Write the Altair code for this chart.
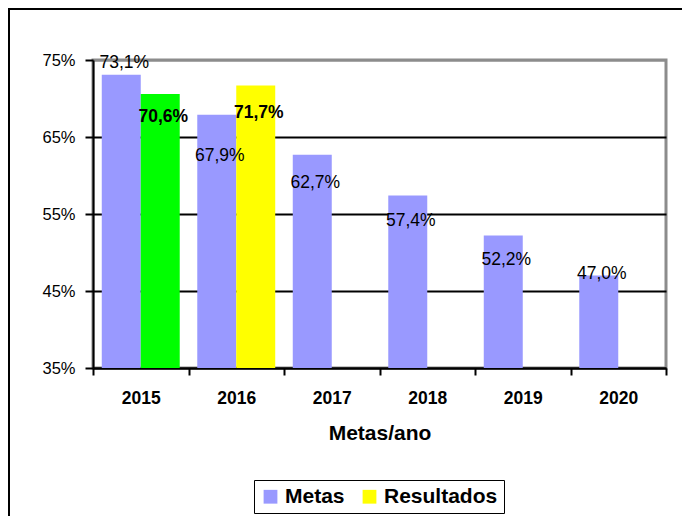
import altair as alt
import pandas as pd

# ---- data ----
years = ["2015", "2016", "2017", "2018", "2019", "2020"]
metas = [73.1, 67.9, 62.7, 57.4, 52.2, 47.0]
resultados = [70.6, 71.7, None, None, None, None]
metas_labels = ["73,1%", "67,9%", "62,7%", "57,4%", "52,2%", "47,0%"]
resultados_labels = ["70,6%", "71,7%", None, None, None, None]
series_names = ["Metas", "Resultados"]
title_text = "Linha de base (2014): 75,3%"

# ---- styling (label nudges in px, not data) ----
metas_label_dy = [-12, 41, 28, 25, 24, -2]
resultados_label_dy = [23, 28, 0, 0, 0, 0]

rows = []
for i, y in enumerate(years):
    rows.append({"year": y, "series": "Metas", "value": metas[i],
                 "label": metas_labels[i], "dy": metas_label_dy[i], "bold": False})
    if resultados[i] is not None:
        rows.append({"year": y, "series": "Resultados", "value": resultados[i],
                     "label": resultados_labels[i], "dy": resultados_label_dy[i], "bold": True})
df = pd.DataFrame(rows)

REG = "Liberation Sans, Arial, sans-serif"

W, H = 573, 308
Y_MIN, Y_MAX = 35, 75

x_enc = alt.X("year:N", sort=years,
              scale=alt.Scale(paddingInner=0, paddingOuter=0),
              axis=alt.Axis(title="Metas/ano", labelAngle=0, tickBand="extent",
                            labelFont=REG, labelFontSize=17.5, labelFontWeight="bold",
                            labelColor="black", labelPadding=14,
                            tickColor="black", tickWidth=2, tickSize=7,
                            domainColor="black", domainWidth=2,
                            titleFont=REG, titleFontSize=21, titleFontWeight="bold",
                            titleColor="black", titlePadding=16, grid=False))
xoff_enc = alt.XOffset("series:N", sort=series_names,
                       scale=alt.Scale(domain=series_names, paddingInner=0, paddingOuter=0.225))
y_enc = alt.Y("value:Q",
              scale=alt.Scale(domain=[Y_MIN, Y_MAX], nice=False, zero=False),
              axis=alt.Axis(title=None, values=[35, 45, 55, 65, 75],
                            labelExpr="datum.value + '%'",
                            labelFont=REG, labelFontSize=16.5, labelColor="black",
                            labelPadding=10, tickColor="black", tickWidth=2, tickSize=8,
                            domainColor="black", domainWidth=2,
                            grid=True, gridWidth=2,
                            gridColor=alt.ExprRef("datum.value === 75 ? '#8c8c8c' : '#000000'")))

bars = alt.Chart(df).mark_bar(strokeWidth=0, clip=True).encode(
    x=x_enc,
    xOffset=xoff_enc,
    y=y_enc,
    color=alt.condition(
        "datum.year === '2015' && datum.series === 'Resultados'",
        alt.value("#00FF00"),
        alt.Color("series:N", sort=series_names,
                  scale=alt.Scale(domain=series_names, range=["#9999FF", "#FFFF00"]),
                  legend=alt.Legend(title=None, orient="none", legendX=161, legendY=420,
                                    direction="horizontal", symbolType="square",
                                    symbolSize=190, symbolStrokeWidth=0,
                                    labelFont=REG, labelFontSize=21, labelFontWeight="bold",
                                    labelColor="black", labelOffset=4, columnPadding=14,
                                    strokeColor="black", padding=6))
    ),
)

px_to_val = (Y_MAX - Y_MIN) / H

def label_layer(is_bold):
    return alt.Chart(df).transform_filter(
        "datum.bold" if is_bold else "!datum.bold"
    ).transform_calculate(
        labelpos=f"datum.value - datum.dy * {px_to_val}"
    ).mark_text(font=REG, fontSize=17.5, color="black",
                fontWeight="bold" if is_bold else "normal",
                baseline="middle", align="center", dx=3).encode(
        x=alt.X("year:N", sort=years),
        xOffset=alt.XOffset("series:N", sort=series_names),
        y=alt.Y("labelpos:Q"),
        text="label:N",
    )

frame = alt.Chart(pd.DataFrame({"t": [title_text]})).mark_rect(
    fill=None, stroke="black", strokeWidth=2).encode(
    x=alt.value(-84), x2=alt.value(W + 100), y=alt.value(-51), y2=alt.value(H + 200))

title = alt.Chart(pd.DataFrame({"t": [title_text]})).mark_text(
    font=REG, fontSize=20, fontWeight="bold", color="black", baseline="bottom").encode(
    x=alt.value(W / 2 + 20), y=alt.value(-56), text="t:N")

chart = alt.layer(bars, label_layer(False), label_layer(True), frame, title).properties(
    width=W, height=H,
    background="white",
    autosize=alt.AutoSizeParams(type="none"),
    padding={"left": 85, "top": 52, "right": 16, "bottom": 148},
).configure_view(stroke="#8c8c8c", strokeWidth=3)

chart.save("out.html", embed_options={"renderer": "svg", "actions": False})
